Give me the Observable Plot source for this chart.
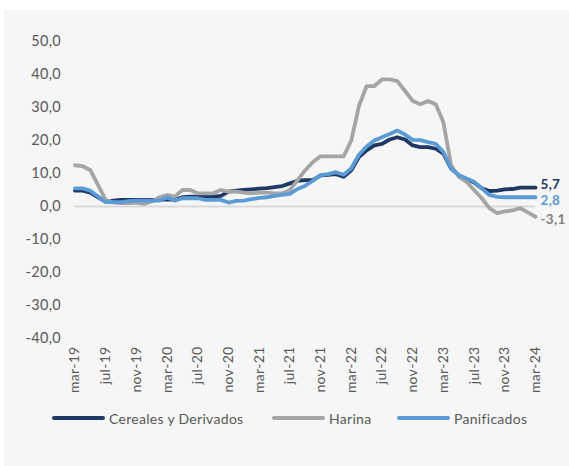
<!DOCTYPE html>
<html><head><meta charset="utf-8">
<script src="https://cdn.jsdelivr.net/npm/d3@7"></script>
<script src="https://cdn.jsdelivr.net/npm/@observablehq/plot@0.6"></script>
<style>
body{margin:0;background:#fff;font-family:Lato,sans-serif;}
#panel{position:absolute;left:4px;top:10px;width:565px;height:456px;background:#f6f6f6;}
#chart{position:absolute;left:0;top:0;}
#legend{position:absolute;left:0;top:408px;width:569px;height:20px;}
.item{position:absolute;top:0;display:flex;align-items:center;font-size:14px;letter-spacing:0.3px;color:#595959;height:20px;white-space:nowrap}
.sw{width:53px;height:4px;border-radius:2px;margin-right:4px}
</style></head>
<body>
<div id="panel"></div>
<div id="chart"></div>
<div id="legend"></div>
<script>
const meses = ["mar-19","abr-19","may-19","jun-19","jul-19","ago-19","sep-19","oct-19","nov-19","dic-19",
"ene-20","feb-20","mar-20","abr-20","may-20","jun-20","jul-20","ago-20","sep-20","oct-20","nov-20","dic-20",
"ene-21","feb-21","mar-21","abr-21","may-21","jun-21","jul-21","ago-21","sep-21","oct-21","nov-21","dic-21",
"ene-22","feb-22","mar-22","abr-22","may-22","jun-22","jul-22","ago-22","sep-22","oct-22","nov-22","dic-22",
"ene-23","feb-23","mar-23","abr-23","may-23","jun-23","jul-23","ago-23","sep-23","oct-23","nov-23","dic-23",
"ene-24","feb-24","mar-24"];
const tickLabels = ["mar-19","jul-19","nov-19","mar-20","jul-20","nov-20","mar-21","jul-21","nov-21","mar-22","jul-22","nov-22","mar-23","jul-23","nov-23","mar-24"];
const yTicks = [-40,-30,-20,-10,0,10,20,30,40,50];
const series = ["Cereales y Derivados","Harina","Panificados"];
const colors = ["#1f3864","#a5a5a5","#5b9bd5"];
const labelColors = ["#1f3864","#7f7f7f","#5b9bd5"];

const cereales = [4.8,4.8,4.2,2.8,1.5,1.8,2.0,2.0,2.0,2.0,
 2.0,2.0,2.2,2.0,2.8,3.0,3.0,3.0,3.0,3.2,
 4.5,4.8,5.0,5.2,5.4,5.6,5.9,6.2,7.0,7.8,
 8.0,8.0,9.4,9.6,9.8,9.0,11.0,15.0,17.0,18.5,
 19.0,20.3,21.0,20.3,18.5,18.0,18.0,17.5,16.0,11.5,
 9.5,8.3,7.3,5.5,4.7,4.8,5.2,5.3,5.7,5.7,
 5.7];
const harina = [12.5,12.2,11.0,6.5,2.0,1.2,1.0,1.0,1.2,0.8,
 1.5,2.8,3.5,3.0,5.0,5.0,4.0,4.0,4.0,5.0,
 4.5,4.5,4.2,4.0,4.2,4.2,4.0,4.0,5.0,8.0,
 11.0,13.5,15.2,15.2,15.2,15.2,20.0,30.5,36.5,36.5,
 38.5,38.5,38.0,35.0,32.0,31.0,32.0,31.0,25.5,12.5,
 9.0,7.5,5.0,2.5,-0.5,-2.0,-1.5,-1.2,-0.5,-1.8,
 -3.1];
const panificados = [5.5,5.5,4.8,3.0,1.3,1.3,1.3,1.6,1.8,1.8,
 1.8,1.8,2.7,1.8,2.5,2.5,2.5,2.0,2.0,2.0,
 1.2,1.7,1.8,2.2,2.6,2.8,3.2,3.5,3.8,5.3,
 6.3,7.8,9.5,9.8,10.4,9.6,11.6,15.7,18.2,20.0,
 21.0,22.0,23.0,21.8,20.2,20.1,19.5,19.0,16.5,11.5,
 9.5,8.5,7.5,5.5,3.5,2.9,2.8,2.8,2.8,2.8,
 2.8];

const valores = [cereales, harina, panificados];
const rows = [];
series.forEach((s, k) => meses.forEach((m, i) => rows.push({mes: m, serie: s, v: valores[k][i]})));
const fmt = d => d3.format(".1f")(d).replace(".", ",").replace("−", "-");

const labelDy = [-3, 3, 3];
const endLabels = series.map((s, k) => Plot.text([{mes: meses[meses.length-1], v: valores[k][meses.length-1]}], {
  x: "mes", y: "v", text: d => fmt(d.v), fill: labelColors[k], dx: 5, dy: labelDy[k], textAnchor: "start",
  fontWeight: "bold", fontSize: 13.5
}));

const chart = Plot.plot({
  width: 569, height: 400,
  marginLeft: 74.5, marginRight: 34, marginTop: 41, marginBottom: 62,
  style: {background: "transparent", fontFamily: "Lato, sans-serif", color: "#595959"},
  x: {type: "point", domain: meses, padding: 0},
  y: {domain: [-40, 50]},
  color: {domain: series, range: colors},
  marks: [
    Plot.ruleY([0], {stroke: "#d9d9d9", strokeWidth: 2}),
    Plot.lineY(rows, {x: "mes", y: "v", z: "serie", stroke: "serie", strokeWidth: 3.8, strokeLinejoin: "round"}),
    Plot.axisY({ticks: yTicks, tickFormat: fmt, tickSize: 0, tickPadding: 14, fontSize: 14.5, label: null}),
    Plot.axisX({ticks: tickLabels, tickSize: 0, tickRotate: -90, tickPadding: 8, fontSize: 14, label: null}),
    ...endLabels
  ]
});
chart.style.letterSpacing = "0.3px";
document.getElementById("chart").appendChild(chart);

const legend = document.getElementById("legend");
const lefts = [52, 272, 397];
series.forEach((s, k) => {
  const it = document.createElement("div");
  it.className = "item";
  it.style.left = lefts[k] + "px";
  const sw = document.createElement("div");
  sw.className = "sw";
  sw.style.background = colors[k];
  it.appendChild(sw);
  it.appendChild(document.createTextNode(s));
  legend.appendChild(it);
});
</script>
</body></html>
